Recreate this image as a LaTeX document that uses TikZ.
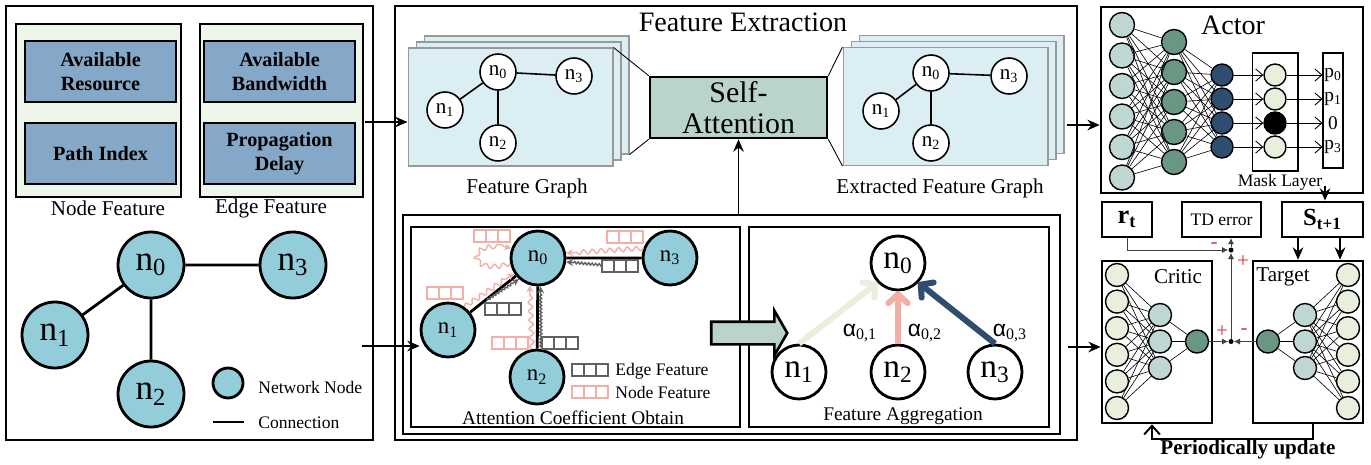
\documentclass[tikz,border=0pt]{standalone}
\usepackage{fontspec}
\setmainfont{Liberation Serif}
\newfontfamily\alphafont{Liberation Sans}
\usetikzlibrary{arrows.meta,shapes.arrows,decorations.pathmorphing}

\definecolor{groupgreen}{HTML}{EEF6EC}
\definecolor{featblue}{HTML}{85A8C8}
\definecolor{nodecyan}{HTML}{93CDDA}
\definecolor{sheetblue}{HTML}{DBEEF4}
\definecolor{sagreen}{HTML}{BAD3CD}
\definecolor{pinkc}{HTML}{F2AFA5}
\definecolor{grayc}{HTML}{606060}
\definecolor{navy}{HTML}{2F4E6F}
\definecolor{palegreen}{HTML}{E8EFDC}
\definecolor{tealdark}{HTML}{6A9684}
\definecolor{tealpale}{HTML}{BFD7D2}
\definecolor{signred}{HTML}{D93A3A}

\newcommand{\fsz}[2]{\fontsize{#1}{#2}\selectfont}
% three feature cells, top left corner at #1,#2
\newcommand{\cells}[3]{\foreach \k in {0,1,2} \draw[#3, line width=1.1pt] ({#1+12*\k},#2) rectangle ++(12,12);}

\tikzset{
  panel/.style={draw, line width=1.5pt, inner sep=0pt},
  subpanel/.style={draw, line width=1.1pt, inner sep=0pt},
  groupbox/.style={draw, line width=1.5pt, fill=groupgreen, minimum height=3.46cm, inner sep=0pt},
  featbox/.style={draw, line width=1.5pt, fill=featblue, minimum width=3.02cm, minimum height=1.22cm, inner sep=0pt, align=center, font=\bfseries\fsz{11.5}{14}},
  caption/.style={inner sep=0pt, font=\fsz{12}{14}},
  netnode/.style={circle, draw, line width=1.6pt, fill=nodecyan, minimum size=1.32cm, inner sep=0pt, font=\fsz{20}{22}},
  link/.style={line width=1.6pt},
  legend/.style={inner sep=0pt, anchor=west, font=\fsz{10}{12}},
  sheet/.style={draw=gray!80, line width=0.6pt, fill=sheetblue, minimum width=4.1cm, minimum height=2.36cm, inner sep=0pt},
  gnode/.style={circle, draw, line width=0.9pt, fill=white, minimum size=0.72cm, inner sep=0pt, font=\fsz{12}{14}},
  glink/.style={line width=0.9pt},
  sabox/.style={draw, line width=1.5pt, fill=sagreen, minimum width=3.54cm, minimum height=1.22cm, inner sep=0pt, align=center, font=\fsz{17}{18}},
  thinline/.style={line width=0.5pt},
  flow/.style={line width=1.1pt, -{Stealth[length=7pt, width=6pt]}},
  attnode/.style={circle, draw, line width=1.6pt, fill=nodecyan, minimum size=1.08cm, inner sep=0pt, font=\fsz{13}{15}},
  aggnode/.style={circle, draw, line width=1.6pt, fill=white, minimum size=1.08cm, inner sep=0pt, font=\fsz{19}{21}},
  pinkwave/.style={color=pinkc, line width=0.8pt, decorate, decoration={snake, amplitude=1.3pt, segment length=5pt, post length=4pt}, -{Stealth[length=4pt, width=4pt]}},
  graywave/.style={color=grayc, line width=0.8pt, decorate, decoration={snake, amplitude=0.6pt, segment length=2pt, post length=4pt}, -{Stealth[length=4pt, width=4pt]}},
  bigarrow/.style={single arrow, draw, line width=1.5pt, fill=sagreen, inner xsep=0pt, inner ysep=0.2cm, minimum height=1.52cm, single arrow head extend=0.22cm, single arrow tip angle=120},
  aggarrow/.style={line width=3.4pt, -{Straight Barb[length=5pt, width=11pt, round]}},
  neuron/.style={circle, draw, line width=0.8pt, inner sep=0pt, minimum size=0.5cm},
  wire/.style={line width=0.35pt},
  maskarrow/.style={line width=0.5pt, -{Straight Barb[length=4pt, width=7pt]}},
  smallbox/.style={draw, line width=1.2pt, inner sep=0pt, minimum height=0.7cm},
  sumline/.style={line width=0.5pt, black!75, -{Latex[length=3.5pt, width=3.5pt]}},
  sign/.style={text=signred, inner sep=0pt, font=\fsz{12}{12}}
}

\begin{document}
\begin{tikzpicture}[x=0.02cm, y=-0.02cm]
\useasboundingbox (0,0) rectangle (1371,464);

% input: features and network
\node[panel, minimum width=7.34cm, minimum height=8.68cm] (inp) at (189.5,223) {};
\node[groupbox, minimum width=3.3cm] (nfeat) at (98.5,110.5) {};
\node[groupbox, minimum width=3.26cm] (efeat) at (281.5,110.5) {};
\node[featbox] (res) at (100.5,71.5) {Available\\Resource};
\node[featbox] (pidx) at (100.5,153.5) {Path Index};
\node[featbox] (bw) at (279.5,71.5) {Available\\Bandwidth};
\node[featbox] (delay) at (279.5,153.5) {Propagation\\Delay};
\node[caption] (nfeatcap) at (108,208) {Node Feature};
\node[caption] (efeatcap) at (271,208) {Edge Feature};

\node[netnode] (n0) at (151,265) {n\textsubscript{0}};
\node[netnode] (n1) at (55,335) {n\textsubscript{1}};
\node[netnode] (n2) at (151,394) {n\textsubscript{2}};
\node[netnode] (n3) at (293,265) {n\textsubscript{3}};
\draw[link] (n0) -- (n1) (n0) -- (n2) (n0) -- (n3);
\node[netnode, minimum size=0.6cm] (lgnode) at (228,383) {};
\node[legend] (lgnodetxt) at (258,387) {Network Node};
\coordinate (lgA) at (213,422); \coordinate (lgB) at (244,422);
\draw[link] (lgA) -- (lgB);
\node[legend] (lglinetxt) at (258,423) {Connection};

% feature extraction
\node[panel, minimum width=13.64cm, minimum height=8.68cm] (mid) at (736,223) {};
\node[inner sep=0pt, font=\fsz{16}{18}] (fetitle) at (743,22) {Feature Extraction};
\foreach \s/\d in {C/16, B/8, A/0} {
  \node[sheet] (fg\s) at ({510.5+\d},{107-0.75*\d}) {};
  \node[sheet] (ef\s) at ({945.5+\d},{106.5-0.75*\d}) {};
}
\node[gnode] (fn0) at (498,72) {n\textsubscript{0}};
\node[gnode] (fn1) at (445,110) {n\textsubscript{1}};
\node[gnode] (fn2) at (498,143) {n\textsubscript{2}};
\node[gnode] (fn3) at (574,76) {n\textsubscript{3}};
\draw[glink] (fn0) -- (fn1) (fn0) -- (fn2) (fn0) -- (fn3);
\node[gnode] (en0) at (931,73) {n\textsubscript{0}};
\node[gnode] (en1) at (881,111) {n\textsubscript{1}};
\node[gnode] (en2) at (931,143) {n\textsubscript{2}};
\node[gnode] (en3) at (1009,76) {n\textsubscript{3}};
\draw[glink] (en0) -- (en1) (en0) -- (en2) (en0) -- (en3);

\node[sabox] (sa) at (738.5,107.5) {Self-\\Attention};
\draw[thinline] (fgA.north east) -- (sa.north west) (fgC.south east) -- (sa.south west);
\draw[thinline] (sa.north east) -- (efA.north west) (sa.south east) -- (efA.south west);
\node[caption] (fgcap) at (527,188) {Feature Graph};
\node[caption] (efcap) at (940,188) {Extracted Feature Graph};

\node[panel, minimum width=13.14cm, minimum height=4.38cm] (inner) at (731.5,324.5) {};
\node[subpanel, minimum width=6.58cm, minimum height=4cm] (attn) at (575.5,327) {};
\node[subpanel, minimum width=6cm, minimum height=4cm] (aggr) at (899,327) {};
\draw[flow] (sa.south |- inner.north) -- (sa.south);

% attention coefficients
\node[attnode] (a0) at (538,258) {n\textsubscript{0}};
\node[attnode] (a1) at (448,330) {n\textsubscript{1}};
\node[attnode] (a2) at (537,377) {n\textsubscript{2}};
\node[attnode] (a3) at (670,258) {n\textsubscript{3}};
\draw[link] (a0) -- (a1) (a0) -- (a2) (a0) -- (a3);
\cells{474}{230}{pinkc} \cells{607}{231}{pinkc} \cells{427}{287}{pinkc} \cells{492}{337}{pinkc}
\cells{602}{260}{grayc} \cells{485}{303}{grayc} \cells{542}{337}{grayc}
\draw[pinkwave] (a3.160) -- (a0.10);
\draw[pinkwave] (a1.55) -- (a0.213);
\draw[pinkwave] (a2.100) -- (a0.253);
\draw[pinkwave] (a0.191) .. controls (468,276) and (468,236) .. (a0.160);
\coordinate (g3) at (602,265); \coordinate (g1) at (487,300); \coordinate (g2) at (541,347);
\draw[graywave] (g3) -- (a0.352);
\draw[graywave] (g1) -- (a0.228);
\draw[graywave] (g2) -- (a0.275);
\cells{572}{364}{grayc} \cells{572}{386}{pinkc}
\node[legend] (lgedge) at (615,371) {Edge Feature};
\node[legend] (lgfeat) at (615,392) {Node Feature};
\node[inner sep=0pt, font=\fsz{11}{13}] (attncap) at (573,418) {Attention Coefficient Obtain};

% aggregation
\node[bigarrow] (pass) at (746,333) {};
\node[aggnode] (g0) at (898,263) {n\textsubscript{0}};
\node[aggnode] (gg1) at (799,372) {n\textsubscript{1}};
\node[aggnode] (gg2) at (898,372) {n\textsubscript{2}};
\node[aggnode] (gg3) at (995,372) {n\textsubscript{3}};
\draw[aggarrow, palegreen] (gg1.north) -- (g0.224);
\draw[aggarrow, pinkc] (gg2.north) -- (g0.south);
\draw[aggarrow, navy] (gg3.north) -- (g0.316);
\node[inner sep=0pt, font=\fsz{13}{15}] (al1) at (860,333) {{\alphafont α}\textsubscript{0,1}};
\node[inner sep=0pt, font=\fsz{13}{15}] (al2) at (925,333) {{\alphafont α}\textsubscript{0,2}};
\node[inner sep=0pt, font=\fsz{13}{15}] (al3) at (1010,333) {{\alphafont α}\textsubscript{0,3}};
\node[inner sep=0pt, font=\fsz{11}{13}] (aggrcap) at (903,416) {Feature Aggregation};

% links between stages
\coordinate (inA) at (365,122); \coordinate (inB) at (362,346);
\draw[flow] (inA) -- (inA -| fgA.west);
\draw[flow] (inB) -- (inB -| a1.west);

% actor
\node[panel, minimum width=5.24cm, minimum height=3.72cm] (actor) at (1232,100) {};
\node[inner sep=0pt, font=\fsz{16}{18}] (actortitle) at (1233,25) {Actor};
\node[draw, line width=0.6pt, minimum width=0.92cm, minimum height=2.36cm] (maskbox) at (1275,112) {};
\node[draw, line width=0.6pt, minimum width=0.4cm, minimum height=2.3cm] (outbox) at (1333,110.5) {};
\foreach \i in {1,...,6} \node[neuron, fill=tealpale] (ai\i) at (1122,{25+30.5*(\i-1)}) {};
\foreach \j in {1,...,5} \node[neuron, fill=tealdark] (ah\j) at (1174,{42+30*(\j-1)}) {};
\foreach \k in {1,...,4} \node[neuron, fill=navy, minimum size=0.44cm] (ao\k) at (1222,{75+24*(\k-1)}) {};
\foreach \k/\c in {1/palegreen,2/palegreen,3/black,4/palegreen} \node[neuron, fill=\c, minimum size=0.44cm] (mk\k) at (1275,{75+24*(\k-1)}) {};
\foreach \i in {1,...,6} \foreach \j in {1,...,5} \draw[wire] (ai\i) -- (ah\j);
\foreach \j in {1,...,5} \foreach \k in {1,...,4} \draw[wire] (ah\j) -- (ao\k);
\foreach \k in {1,...,4} {\draw[maskarrow] (ao\k) -- (mk\k); \draw[maskarrow] (mk\k) -- (mk\k -| outbox.west);}
\foreach \k/\t in {1/{p\textsubscript{0}}, 2/{p\textsubscript{1}}, 3/0, 4/{p\textsubscript{3}}} \node[inner sep=0pt, font=\fsz{11}{13}] (pr\k) at (1333,{75+24*(\k-1)}) {\t};
\node[inner sep=0pt, font=\fsz{10}{12}] (masklbl) at (1280,182) {Mask Layer};

\coordinate (outA) at (1067,125); \coordinate (outB) at (1068,347);
\draw[flow] (outA) -- (outA -| actor.west);

% reward, TD error, next state
\node[smallbox, minimum width=1cm, font=\bfseries\fsz{15}{15}] (rt) at (1127,219.5) {r\textsubscript{t}};
\node[smallbox, minimum width=1.58cm, font=\fsz{10}{12}] (td) at (1221.5,219.5) {TD error};
\node[smallbox, line width=1.6pt, minimum width=1.62cm, font=\bfseries\fsz{14}{14}] (s) at (1322.5,219.5) {S\textsubscript{t+1}};
\coordinate (actout) at (1325,186);
\draw[flow] (actout) -- (actout |- s.north);

% critic and target
\node[panel, minimum width=2.2cm, minimum height=3.24cm] (critic) at (1157,342) {};
\node[panel, minimum width=2.2cm, minimum height=3.24cm] (tg) at (1308,342) {};
\node[inner sep=0pt, font=\fsz{12}{14}] (critictitle) at (1178,277) {Critic};
\node[inner sep=0pt, font=\fsz{12}{14}] (tgtitle) at (1283,277) {Target};
\draw[flow] (outB) -- (outB -| critic.west);
\foreach \i in {1,...,6} {
  \node[neuron, fill=palegreen, minimum size=0.46cm] (ci\i) at (1117,{275+26.6*(\i-1)}) {};
  \node[neuron, fill=palegreen, minimum size=0.46cm] (ti\i) at (1348,{275+26.6*(\i-1)}) {};
}
\foreach \j in {1,2,3} {
  \node[neuron, fill=tealpale, minimum size=0.46cm] (ch\j) at (1160,{315+26.5*(\j-1)}) {};
  \node[neuron, fill=tealpale, minimum size=0.46cm] (th\j) at (1305,{315+26.5*(\j-1)}) {};
}
\node[neuron, fill=tealdark, minimum size=0.46cm] (cq) at (1197,341.5) {};
\node[neuron, fill=tealdark, minimum size=0.46cm] (tq) at (1268,341.5) {};
\foreach \i in {1,...,6} \foreach \j in {1,2,3} \draw[wire] (ci\i) -- (ch\j) (ti\i) -- (th\j);
\foreach \j in {1,2,3} \draw[wire] (ch\j) -- (cq) (th\j) -- (tq);

\draw[flow] ([xshift=-0.49cm]s.south) -- ([xshift=-0.49cm]s.south |- tg.north);
\draw[flow] ([xshift=0.35cm]s.south) -- ([xshift=0.35cm]s.south |- tg.north);

% TD error sums
\node[circle, fill, inner sep=0pt, minimum size=0.1cm] (j1) at (1231,250) {};
\node[circle, fill, inner sep=0pt, minimum size=0.1cm] (j2) at (1231,341.5) {};
\draw[sumline] (rt.south) |- (j1);
\draw[sumline] (j1) -- (j1 |- td.south);
\draw[sumline] (j2) -- (j1);
\draw[sumline] (cq) -- (j2);
\draw[sumline] (tq) -- (j2);
\node[sign] (m1) at (1214,246) {-};
\node[sign] (p1) at (1243,262) {+};
\node[sign] (p2) at (1222,332) {+};
\node[sign] (m2) at (1244,332) {-};

\draw[line width=1.1pt, -{Straight Barb[length=5pt, width=9pt]}] ([xshift=0.1cm]tg.south) -- ++(0,15) -| ([xshift=-0.1cm]critic.south);
\node[inner sep=0pt, font=\bfseries\fsz{12}{14}] (upd) at (1248,449) {Periodically update};
\end{tikzpicture}
\end{document}
